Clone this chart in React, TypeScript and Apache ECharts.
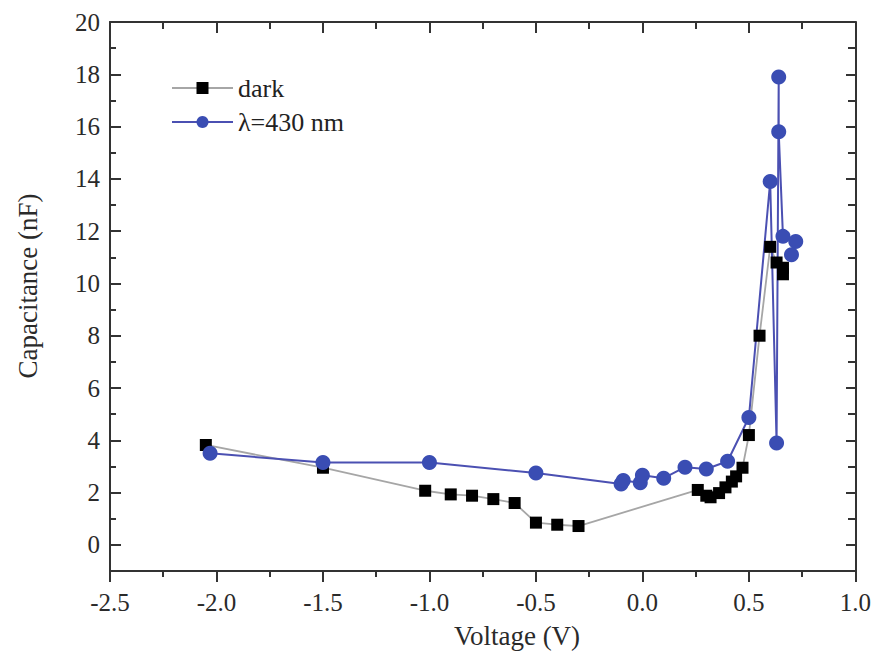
import React, { useEffect, useRef } from "react";
import * as echarts from "echarts";

const xTicks = { min: -2.5, max: 1.0, interval: 0.5 };
const yTicks = { min: 0, max: 20, interval: 2 };

const darkVoltage = [-2.05, -1.5, -1.02, -0.9, -0.8, -0.7, -0.6, -0.5, -0.4, -0.3, 0.26, 0.3, 0.32, 0.36, 0.39, 0.42, 0.44, 0.47, 0.5, 0.55, 0.6, 0.63, 0.66, 0.66];
const darkCapacitance = [3.82, 2.95, 2.07, 1.93, 1.88, 1.75, 1.6, 0.85, 0.77, 0.72, 2.1, 1.88, 1.82, 1.98, 2.2, 2.42, 2.62, 2.95, 4.2, 8.0, 11.4, 10.8, 10.6, 10.35];

const lightVoltage = [-2.03, -1.5, -1.0, -0.5, -0.1, -0.09, -0.01, 0.0, 0.1, 0.2, 0.3, 0.4, 0.5, 0.6, 0.63, 0.64, 0.64, 0.66, 0.72, 0.7];
const lightCapacitance = [3.5, 3.15, 3.15, 2.75, 2.33, 2.46, 2.38, 2.66, 2.55, 2.97, 2.9, 3.2, 4.87, 13.9, 3.9, 17.9, 15.8, 11.8, 11.6, 11.1];

const seriesNames = ["dark", "λ=430 nm"];

const FONT = "'Liberation Serif', 'DejaVu Serif', serif";
const AX = "#333333";

export default function App() {
  const ref = useRef<HTMLDivElement>(null);
  useEffect(() => {
    if (!ref.current) return;
    const chart = echarts.init(ref.current, null, { renderer: "svg" });
    const zip = (xs: number[], ys: number[]) => xs.map((x, i) => [x, ys[i]]);
    const H = 659;
    const gTop = 22;
    const gBottom = 88;
    const unit = (H - gTop - gBottom) / 21;
    const tickLabel = { fontFamily: FONT, fontSize: 25, color: "#2a2a2a" };
    const hiddenLine = { show: false, onZero: false };
    chart.setOption({
      animation: false,
      backgroundColor: "#ffffff",
      grid: [
        { left: 110, right: 18, top: gTop, bottom: gBottom },
        { left: 110, right: 18, top: gTop, bottom: gBottom + unit },
      ],
      legend: {
        orient: "vertical",
        left: 166,
        top: 70,
        itemWidth: 61,
        itemHeight: 15,
        itemGap: 8,
        textStyle: { fontFamily: FONT, fontSize: 26, color: "#222" },
        data: seriesNames,
      },
      xAxis: [
        {
          type: "value", gridIndex: 0, position: "bottom",
          min: xTicks.min, max: xTicks.max, interval: xTicks.interval,
          axisLine: { show: true, onZero: false, lineStyle: { color: AX, width: 2 } },
          axisTick: { show: true, inside: false, length: 11, lineStyle: { color: AX, width: 2 } },
          minorTick: { show: true, splitNumber: 2, length: 6, lineStyle: { color: AX, width: 2 } },
          splitLine: { show: false },
          axisLabel: { ...tickLabel, margin: 19, formatter: (v: number) => v.toFixed(1) },
        },
        {
          type: "value", gridIndex: 0, position: "top",
          min: xTicks.min, max: xTicks.max, interval: xTicks.interval,
          axisLine: { show: true, onZero: false, lineStyle: { color: AX, width: 2 } },
          axisTick: { show: true, inside: true, length: 11, lineStyle: { color: AX, width: 2 } },
          minorTick: { show: true, splitNumber: 2, length: 7, lineStyle: { color: AX, width: 2 } },
          splitLine: { show: false },
          axisLabel: { show: false },
        },
        {
          type: "value", gridIndex: 1, position: "bottom",
          min: xTicks.min, max: xTicks.max,
          axisLine: hiddenLine, axisTick: { show: false }, axisLabel: { show: false }, splitLine: { show: false },
        },
      ],
      yAxis: [
        {
          type: "value", gridIndex: 0, position: "left", min: -1, max: 20,
          axisLine: { show: true, onZero: false, lineStyle: { color: AX, width: 2 } },
          axisTick: { show: false }, axisLabel: { show: false }, splitLine: { show: false },
        },
        {
          type: "value", gridIndex: 0, position: "right", min: -1, max: 20,
          axisLine: { show: true, onZero: false, lineStyle: { color: AX, width: 2 } },
          axisTick: { show: false }, axisLabel: { show: false }, splitLine: { show: false },
        },
        {
          type: "value", gridIndex: 1, position: "left",
          min: yTicks.min, max: yTicks.max, interval: yTicks.interval,
          axisLine: hiddenLine,
          axisTick: { show: true, inside: true, length: 11, lineStyle: { color: AX, width: 2 } },
          minorTick: { show: true, splitNumber: 2, length: 6, lineStyle: { color: AX, width: 2 } },
          splitLine: { show: false },
          axisLabel: { ...tickLabel, margin: 10 },
        },
        {
          type: "value", gridIndex: 1, position: "right",
          min: yTicks.min, max: yTicks.max, interval: yTicks.interval,
          axisLine: hiddenLine,
          axisTick: { show: true, inside: true, length: 10, lineStyle: { color: AX, width: 2 } },
          minorTick: { show: true, splitNumber: 2, length: 8, lineStyle: { color: AX, width: 2 } },
          splitLine: { show: false },
          axisLabel: { show: false },
        },
      ],
      graphic: [
        {
          type: "text", x: 517, y: 636,
          style: { text: "Voltage (V)", fontFamily: FONT, fontSize: 27, fill: "#2a2a2a", align: "center", verticalAlign: "middle" },
        },
        {
          type: "text", x: 28, y: 286, rotation: Math.PI / 2,
          style: { text: "Capacitance (nF)", fontFamily: FONT, fontSize: 27, fill: "#2a2a2a", align: "center", verticalAlign: "middle" },
        },
      ],
      series: [
        {
          name: seriesNames[0], type: "line", xAxisIndex: 0, yAxisIndex: 0,
          data: zip(darkVoltage, darkCapacitance),
          symbol: "rect", symbolSize: 12,
          lineStyle: { color: "#a6a6a6", width: 1.8 },
          itemStyle: { color: "#000000" },
        },
        {
          name: seriesNames[1], type: "line", xAxisIndex: 0, yAxisIndex: 0,
          data: zip(lightVoltage, lightCapacitance),
          symbol: "circle", symbolSize: 15,
          lineStyle: { color: "#4b50b2", width: 2 },
          itemStyle: { color: "#3a4db3" },
        },
      ],
    });
    return () => chart.dispose();
  }, []);
  return <div ref={ref} style={{ position: "fixed", left: 0, top: 0, width: 874, height: 659 }} />;
}
